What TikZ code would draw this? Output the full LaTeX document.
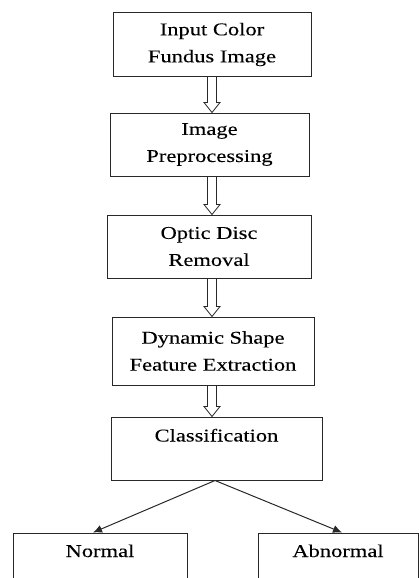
\documentclass[tikz,border=0pt]{standalone}
\usepackage{fontspec}
\setmainfont{Liberation Serif}[FakeStretch=1.25, FakeBold=0.1]
\usepackage{tikz}
\usetikzlibrary{arrows,arrows.meta,calc}
\definecolor{L}{RGB}{40, 40, 40}

%Flecha hueca entre dos cajas
\newcommand{\flechahueca}[2]{%
	\draw[hueca] ($(ax |- #1.south)+(-4.5,0)$) |- ($(ax |- #2.north)+(-8,-10)$)
		-- (ax |- #2.north) -- ++(8,-10) -- ++(-3.5,0)
		-- ($(ax |- #1.south)+(4.5,0)$);%
}

\begin{document}
\begin{tikzpicture}[x=1pt, y=-1pt,
	caja/.style={draw=L, line width=1pt, align=center, font=\fontsize{18}{27}\selectfont},
	hueca/.style={draw=L, line width=0.8pt},
	rama/.style={draw=L, line width=1pt, -{Latex[length=9pt,width=8pt]}}]
	\clip (0,0) rectangle (419,578);
	\coordinate (ax) at (212,0);

	%Cajas del flujo
	\node[caja, minimum width=198, minimum height=63] (entrada) at (212,44.5) {Input Color\\Fundus Image};
	\node[caja, minimum width=199, minimum height=63] (prepro) at (209.5,144.5) {Image\\Preprocessing};
	\node[caja, minimum width=204, minimum height=63] (disco) at (209,246.5) {Optic Disc\\Removal};
	\node[caja, minimum width=202, minimum height=68] (rasgos) at (213,351) {Dynamic Shape\\Feature Extraction};
	\node[caja, minimum width=211, minimum height=63, text height=15.5, text depth=29.5] (clasif) at (216.5,448.5) {Classification};

	%Cajas de salida (cortadas abajo)
	\node[caja, minimum width=174, minimum height=80, text height=15, text depth=47] (normal) at (100,573) {Normal};
	\node[caja, minimum width=160, minimum height=80, text height=15, text depth=47] (anormal) at (338,573) {Abnormal};

	%Flechas huecas
	\flechahueca{entrada}{prepro}
	\flechahueca{prepro}{disco}
	\flechahueca{disco}{rasgos}
	\flechahueca{rasgos}{clasif}

	%Ramas
	\draw[rama] ([xshift=-1.5pt]clasif.south) -- ([xshift=-7pt]normal.north);
	\draw[rama] ([xshift=-1.5pt]clasif.south) -- ([xshift=4pt]anormal.north);
\end{tikzpicture}
\end{document}
